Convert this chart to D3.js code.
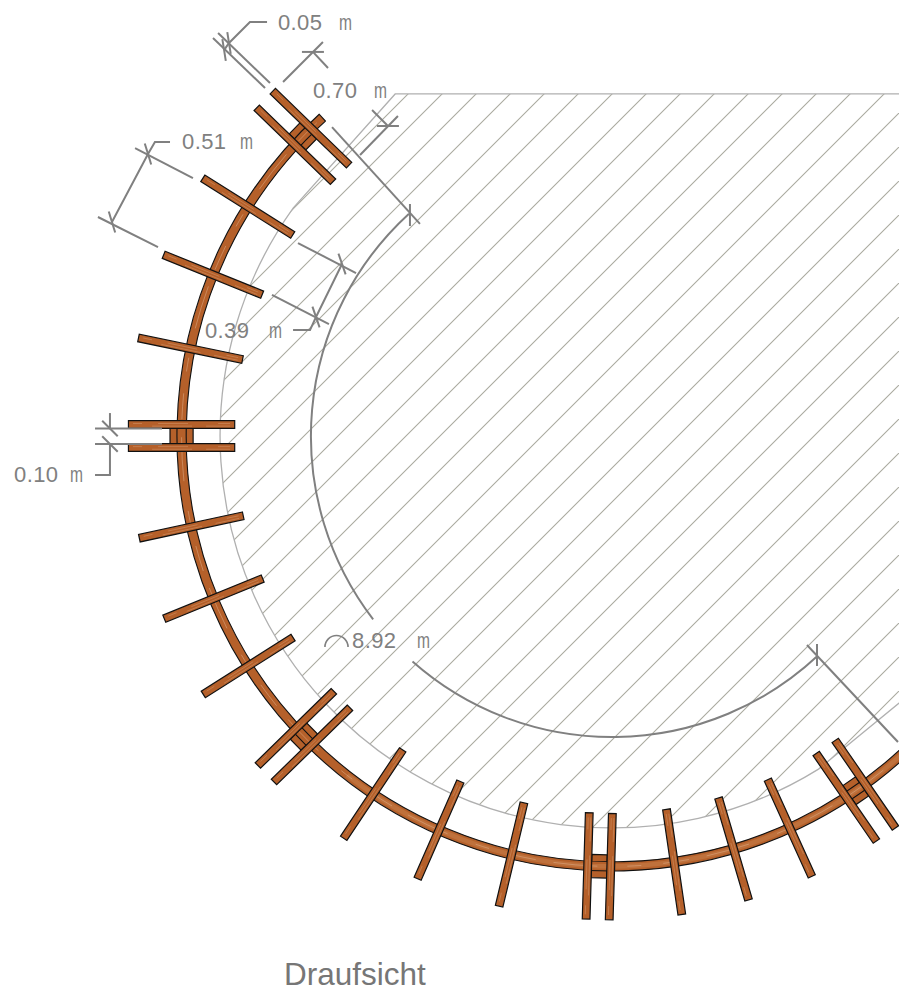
<!DOCTYPE html>
<html>
<head>
<meta charset="utf-8">
<title>Draufsicht</title>
<script src="https://cdn.jsdelivr.net/npm/d3@7/dist/d3.min.js"></script>
<style>
  html, body { margin: 0; padding: 0; background: #fff; }
  svg { display: block; }
  text { font-family: "Liberation Sans", sans-serif; }
</style>
</head>
<body>
<div id="container"></div>
<script>
// everything in metres, angle in degrees (0 = east, counter clockwise), centre of the circle = 0,0
const singlePlanks = [168.3, 158, 147.8, 192.2, 202.2, 212.3, 236.3, 246.3, 256.5, 278.3, 286.4, 294.4];
const doublePlanks = [180, 224.3, 268.3, 304.5, 135.9];
const plankInner = 2.45, plankOuter = 3.14, plankWidth = 0.05, plankGap = 0.10;
const ringRadius = [2.765, 2.825], ringAngles = [132.3, 318];
const blockRadius = [2.72, 2.87];
const terraceRadius = 2.545, terraceAngles = [144.4, 301.8];
// last two run past the right edge of the page, the outline is cut there
const terraceCorners = [[-1.408, 2.221], [2.1, 2.221], [2.1, -1.54], [1.351, -2.182]];
const hatchStep = 34 / 154;
const radiusArc = 1.955, radiusArcParts = [[132.4, 217.5], [228.5, 313.1]];

// polylines of the dimensioning
const dimLines = [
  [[-2.253, 2.260], [-2.591, 2.584]],
  [[-2.221, 2.292], [-2.558, 2.617]],
  [[-2.519, 2.506], [-2.487, 2.552], [-2.351, 2.688], [-2.240, 2.688]],
  [[-2.136, 2.299], [-1.877, 2.558]],
  [[-1.942, 2.494], [-1.844, 2.390]],
  [[-1.558, 2.117], [-1.455, 2.013]],
  [[-1.636, 1.825], [-1.390, 2.078]],
  [[-1.818, 2.006], [-1.247, 1.377]],
  [[1.266, -1.357], [1.857, -1.987]],
  [[-3.097, 1.870], [-2.721, 1.675]],
  [[-3.338, 1.422], [-2.948, 1.227]],
  [[-3.247, 1.390], [-3.013, 1.831], [-2.968, 1.909], [-2.870, 1.909]],
  [[-2.039, 1.253], [-1.662, 1.058]],
  [[-2.208, 0.916], [-1.838, 0.727]],
  [[-1.753, 1.117], [-1.922, 0.773], [-1.961, 0.688], [-2.071, 0.688]],
  [[-3.357, 0.049], [-2.922, 0.049]],
  [[-3.357, -0.052], [-2.922, -0.052]],
  [[-3.260, 0.149], [-3.260, 0.049]],
  [[-3.260, -0.052], [-3.260, -0.253], [-3.357, -0.253]]
];
// tick position and the screen direction of the dimension line
const dimTicks = [
  [-2.519, 2.506, -54], [-2.487, 2.552, -54],
  [-1.942, 2.494, 45], [-1.455, 2.013, 45],
  [-3.013, 1.831, 118], [-3.247, 1.390, 118],
  [-1.753, 1.117, 116], [-1.922, 0.773, 116],
  [-3.260, 0.049, 90], [-3.260, -0.052, 90],
  [-1.312, 1.435, -45], [1.331, -1.422, -45]
];
const dimValues = ["0.05", "0.70", "0.51", "0.39", "0.10", "8.92"];
const dimValueX = [-2.169, -1.942, -2.792, -2.643, -3.883, -1.688];
const dimUnitX = [-1.773, -1.545, -2.416, -2.227, -3.519, -1.266];
const dimY = [2.636, 2.195, 1.864, 0.636, -0.299, -1.377];
const arcSymbol = [-1.789, -1.370, 0.075];

const W = 899, H = 994, CX = 612, CY = 436, PX = 154;
const lineGray = "#808080", wood = "#b5602a", grain = "#e0b08c";

const x = d3.scaleLinear().domain([0, 1]).range([CX, CX + PX]);
const y = d3.scaleLinear().domain([0, 1]).range([CY, CY - PX]);
const rad = d3.scaleLinear().domain([0, 1]).range([0, PX]);
const toRad = d => d * Math.PI / 180;

var svg = d3.select("#container").append("svg").attr("width", W).attr("height", H);

// polar + sideways offset, gives metres
function polar(angle, r, side) {
  const a = toRad(angle);
  return [r * Math.cos(a) - side * Math.sin(a), r * Math.sin(a) + side * Math.cos(a)];
}
const line = d3.line().x(d => x(d[0])).y(d => y(d[1]));

// terrace outline with hatching
function terracePath() {
  const p = d3.path();
  p.moveTo(x(terraceCorners[1][0]), y(terraceCorners[1][1]));
  p.lineTo(x(terraceCorners[0][0]), y(terraceCorners[0][1]));
  p.arc(x(0), y(0), rad(terraceRadius), toRad(-terraceAngles[0]), toRad(-terraceAngles[1]), true);
  p.lineTo(x(terraceCorners[2][0]), y(terraceCorners[2][1]));
  p.closePath();
  return p.toString();
}
svg.append("clipPath").attr("id", "terrace").append("path").attr("d", terracePath());

// 45 degree lines, first one touches the top edge at sum 502
var hatch = svg.append("g").attr("clip-path", "url(#terrace)");
d3.range(0, 42).forEach(function(i) {
  const u0 = (502 - CX - CY) / PX + i * hatchStep;
  hatch.append("line")
    .attr("x1", x(u0 + 4)).attr("y1", y(4))
    .attr("x2", x(u0 - 4)).attr("y2", y(-4))
    .attr("stroke", "#a9a99f").attr("stroke-width", 1.05);
});
svg.append("path").attr("d", terracePath())
  .attr("fill", "none").attr("stroke", "#b0b0b0").attr("stroke-width", 1.3);

// planks + ring
function plankPoints(angle, side) {
  const h = plankWidth / 2;
  return [polar(angle, plankInner, side - h), polar(angle, plankOuter, side - h),
          polar(angle, plankOuter, side + h), polar(angle, plankInner, side + h)];
}
function drawPlank(angle, side) {
  svg.append("path").attr("d", line(plankPoints(angle, side)) + "Z")
    .attr("fill", wood).attr("stroke", "#111").attr("stroke-width", 1.2);
  [-0.006, 0.011].forEach(function(s, i) {
    svg.append("path").attr("d", line([polar(angle, plankInner + 0.03, side + s), polar(angle, plankOuter - 0.03, side + s)]))
      .attr("stroke", grain).attr("stroke-width", 0.8).attr("opacity", 0.45)
      .attr("stroke-dasharray", i ? "24 14 40 22" : "12 30 30 16");
  });
}

const arc = d3.arc();
function ringArc(r0, r1, a0, a1) {
  return arc({ innerRadius: rad(r0), outerRadius: rad(r1), startAngle: toRad(90 - a0), endAngle: toRad(90 - a1) });
}
var ringLayer = svg.append("g").attr("transform", "translate(" + x(0) + "," + y(0) + ")");

// blocks between the double planks go under the ring
doublePlanks.forEach(function(a) {
  const pts = [polar(a, blockRadius[0], -plankGap / 2), polar(a, blockRadius[1], -plankGap / 2),
               polar(a, blockRadius[1], plankGap / 2), polar(a, blockRadius[0], plankGap / 2)];
  svg.append("path").attr("d", line(pts) + "Z")
    .attr("fill", wood).attr("stroke", "#111").attr("stroke-width", 1.2);
});
svg.node().appendChild(ringLayer.node());
ringLayer.append("path").attr("d", ringArc(ringRadius[0], ringRadius[1], ringAngles[0], ringAngles[1]))
  .attr("fill", wood).attr("stroke", "#111").attr("stroke-width", 1.1);
// lighter grain on the ring, stronger at the bottom
ringLayer.append("path").attr("d", ringArc(2.78, 2.81, 232, 312))
  .attr("fill", "#d2925f").attr("opacity", 0.35);
const grainArc = d3.path();
grainArc.arc(0, 0, rad(2.795), toRad(-ringAngles[0] - 1), toRad(-ringAngles[1]), true);
ringLayer.append("path").attr("d", grainArc.toString())
  .attr("fill", "none").attr("stroke", grain).attr("stroke-width", 1).attr("opacity", 0.5)
  .attr("stroke-dasharray", "26 18 44 30 14 22");

singlePlanks.forEach(a => drawPlank(a, 0));
doublePlanks.forEach(function(a) {
  drawPlank(a, -(plankGap + plankWidth) / 2);
  drawPlank(a, (plankGap + plankWidth) / 2);
});

// dimensioning
var dims = svg.append("g").attr("fill", "none").attr("stroke", lineGray).attr("stroke-width", 2);
dimLines.forEach(function(pts) {
  dims.append("path").attr("d", line(pts));
});
dimTicks.forEach(function(t) {
  const a = toRad(t[2] - 45), len = 11;
  dims.append("line")
    .attr("x1", x(t[0]) - len * Math.cos(a)).attr("y1", y(t[1]) - len * Math.sin(a))
    .attr("x2", x(t[0]) + len * Math.cos(a)).attr("y2", y(t[1]) + len * Math.sin(a));
});
radiusArcParts.forEach(function(part) {
  const p = d3.path();
  p.arc(x(0), y(0), rad(radiusArc), toRad(-part[0]), toRad(-part[1]), true);
  dims.append("path").attr("d", p.toString());
});
const sym = d3.path();
sym.arc(x(arcSymbol[0]), y(arcSymbol[1]), rad(arcSymbol[2]), Math.PI, 0);
dims.append("path").attr("d", sym.toString()).attr("stroke-width", 1.6);

var labels = svg.append("g").attr("fill", lineGray).attr("font-size", 22);
dimValues.forEach(function(v, i) {
  labels.append("text").attr("x", x(dimValueX[i])).attr("y", y(dimY[i])).attr("letter-spacing", 0.4).text(v);
  labels.append("text").attr("x", x(dimUnitX[i])).attr("y", y(dimY[i]))
    .attr("textLength", 13).attr("lengthAdjust", "spacingAndGlyphs").text("m");
});

svg.append("text").attr("x", 284).attr("y", 985)
  .attr("fill", "#767676").attr("font-size", 31.5).text("Draufsicht");
</script>
</body>
</html>
